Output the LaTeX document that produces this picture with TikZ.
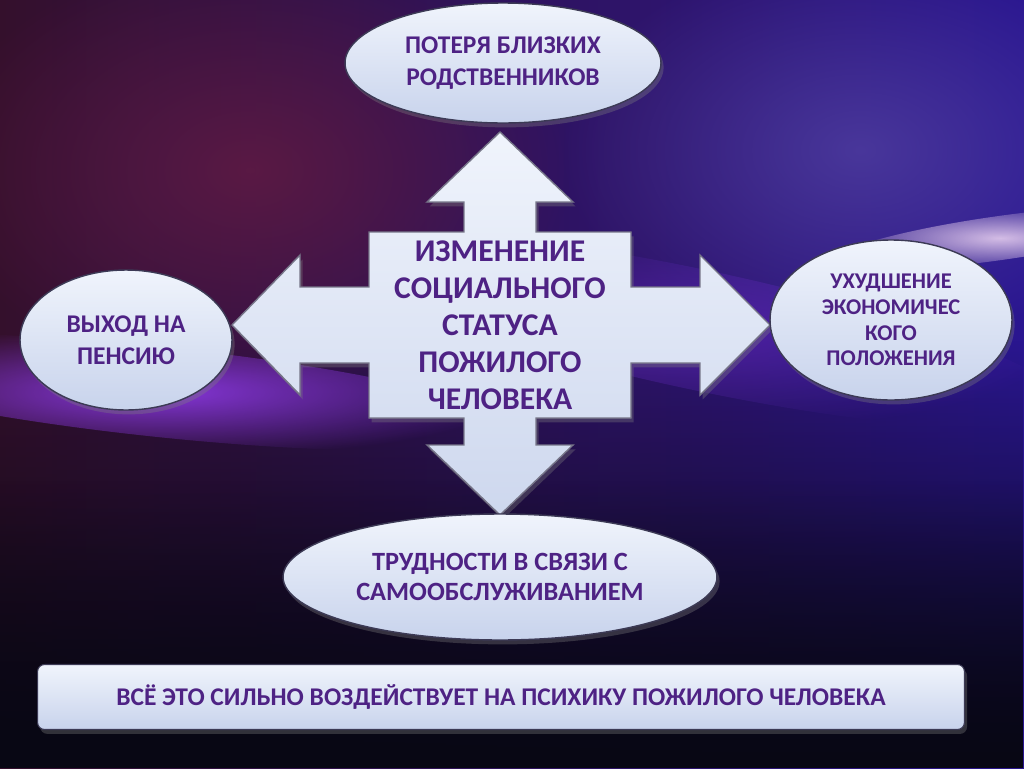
\documentclass[tikz,border=0pt]{standalone}
\usepackage{fontspec}
\setmainfont{Carlito}
\usetikzlibrary{shadows,fadings,shapes.geometric}

\definecolor{bgmaroon}{HTML}{34102C}
\definecolor{bgred}{HTML}{5E1A44}
\definecolor{bgpurple}{HTML}{46186C}
\definecolor{bgblue}{HTML}{2A1690}
\definecolor{bgdeep}{HTML}{080714}
\definecolor{glowviolet}{HTML}{8A38E0}
\definecolor{glowpink}{HTML}{F0D8F4}
\definecolor{boxtop}{HTML}{F0F4FC}
\definecolor{boxbottom}{HTML}{C8D3EC}
\definecolor{boxedge}{HTML}{3C3A55}
\definecolor{inkpurple}{HTML}{4E2284}

\tikzfading[name=softglow, inner color=transparent!0, outer color=transparent!100]

\begin{document}
\begin{tikzpicture}[
    x=0.02cm, y=-0.02cm,
    bubble/.style = {
      ellipse,
      draw=boxedge,
      line width=0.8pt,
      top color=boxtop,
      bottom color=boxbottom,
      drop shadow={opacity=0.35, shadow xshift=1.5pt, shadow yshift=-2.5pt},
      inner sep=0pt,
      align=center,
      text=inkpurple,
      font=\bfseries\fontsize{14.5pt}{18pt}\selectfont
    },
    banner/.style = {
      rectangle,
      rounded corners=4pt,
      draw=boxedge,
      line width=0.6pt,
      top color=boxtop,
      bottom color=boxbottom,
      drop shadow={opacity=0.35, shadow xshift=1.5pt, shadow yshift=-2.5pt},
      align=center,
      text=inkpurple,
      font=\bfseries\fontsize{14.5pt}{18pt}\selectfont
    },
    crossarrow/.style = {
      draw=boxedge!70,
      line width=0.8pt,
      top color=boxtop,
      bottom color=boxbottom!90!white,
      drop shadow={opacity=0.35, shadow xshift=1.5pt, shadow yshift=-2.5pt}
    },
    glow/.style = {path fading=softglow}
  ]
    % background
    \useasboundingbox (0,0) rectangle (1024,768);
    \shade[left color=bgmaroon, middle color=bgpurple, right color=bgblue]
      (0,0) rectangle (1024,768);
    \fill[bgblue!80!white, glow, opacity=0.7] (860,150) ellipse [x radius=300, y radius=200];
    \fill[bgred, glow, opacity=0.9] (250,170) ellipse [x radius=320, y radius=220];
    \fill[bgdeep, path fading=north] (0,340) rectangle (1024,768);
    \fill[bgdeep, opacity=0.8, path fading=north] (0,480) rectangle (1024,768);
    \fill[glowviolet, glow, opacity=0.95, rotate around={-6:(160,392)}]
      (160,392) ellipse [x radius=360, y radius=45];
    \fill[glowviolet!60!bgblue, glow, opacity=0.6, rotate around={-12:(700,330)}]
      (700,330) ellipse [x radius=380, y radius=60];
    \fill[glowpink, glow, opacity=0.85, rotate around={8:(1000,238)}]
      (1000,238) ellipse [x radius=170, y radius=22];

    % cross of four arrows
    \coordinate (hub) at (500,325);
    \path[crossarrow]
      (500,132) -- (573,202) -- (536,202) -- (536,232) -- (631,232) -- (631,287)
      -- (700,287) -- (700,255) -- (770,325) -- (700,395) -- (700,363) -- (631,363)
      -- (631,418) -- (536,418) -- (536,445) -- (573,445) -- (500,515) -- (427,445)
      -- (464,445) -- (464,418) -- (369,418) -- (369,363) -- (300,363) -- (300,395)
      -- (232,325) -- (300,255) -- (300,287) -- (369,287) -- (369,232) -- (464,232)
      -- (464,202) -- (427,202) -- cycle;
    \node[align=center, text=inkpurple,
          font=\bfseries\fontsize{18pt}{21pt}\selectfont] (status) at (hub)
      {ИЗМЕНЕНИЕ\\СОЦИАЛЬНОГО\\СТАТУСА\\ПОЖИЛОГО\\ЧЕЛОВЕКА};

    % the four consequences
    \node[bubble, minimum width=6.32cm, minimum height=2.4cm] (loss) at (503,63)
      {ПОТЕРЯ БЛИЗКИХ\\РОДСТВЕННИКОВ};
    \node[bubble, minimum width=4.24cm, minimum height=2.8cm] (pension) at (126,340)
      {ВЫХОД НА\\ПЕНСИЮ};
    \node[bubble, minimum width=4.84cm, minimum height=3.2cm,
          font=\bfseries\fontsize{12.8pt}{14.7pt}\selectfont] (income) at (891,320)
      {УХУДШЕНИЕ\\ЭКОНОМИЧЕС\\КОГО\\ПОЛОЖЕНИЯ};
    \node[bubble, minimum width=8.68cm, minimum height=2.52cm,
          font=\bfseries\fontsize{15pt}{17pt}\selectfont] (selfcare) at (500,577)
      {ТРУДНОСТИ В СВЯЗИ С\\САМООБСЛУЖИВАНИЕМ};

    % summary line
    \node[banner, minimum width=18.54cm, minimum height=1.3cm] (summary) at (501,697)
      {ВСЁ ЭТО СИЛЬНО ВОЗДЕЙСТВУЕТ НА ПСИХИКУ ПОЖИЛОГО ЧЕЛОВЕКА};
  \end{tikzpicture}
\end{document}
